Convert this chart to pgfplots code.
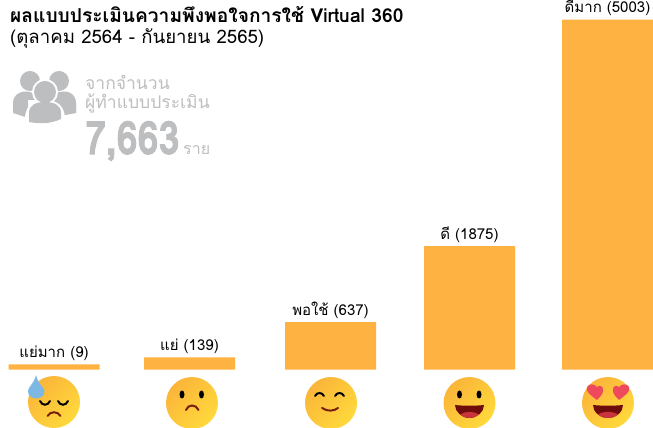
\documentclass[border=0pt]{standalone}
\usepackage{fontspec}
\setmainfont[Script=Thai]{Loma}
\usepackage{pgfplots}
\pgfplotsset{compat=1.18}
\definecolor{bar}{HTML}{FDB241}
\definecolor{gr}{HTML}{BDBEC0}
\definecolor{fa}{HTML}{FFD93B}
\definecolor{fb}{HTML}{FBB53A}
\definecolor{mo}{HTML}{6E0C0C}
\definecolor{to}{HTML}{C9343C}
\definecolor{he}{HTML}{EF4A5C}
\definecolor{br}{HTML}{7A1E10}
\definecolor{dr}{HTML}{7DB7E4}
\begin{document}
\begin{tikzpicture}
\useasboundingbox (0,0) rectangle (653pt,428pt);
\begin{axis}[at={(0,0)},anchor=south west,scale only axis,width=653pt,height=428pt,
  xmin=0,xmax=653,ymin=-836,ymax=5282,axis lines=none,clip=false,
  ybar,bar width=91pt,bar shift=0pt,
  nodes near coords,point meta=explicit symbolic,
  every node near coord/.append style={font=\fontsize{15}{17}\selectfont,text=black,yshift=0pt}]
\addplot[fill=bar,draw=none] coordinates {
 (54,74)[แย่มาก (9)]
 (189.5,174)[แย่ (139)]
 (330.5,679)[พอใช้ (637)]
 (469.5,1764)[ดี (1875)]
 (607.5,5003)[ดีมาก (5003)]
};
\end{axis}
\begin{scope}[x=1pt,y=-1pt,yshift=428pt]
% titles
\node[anchor=west,inner sep=0,font=\fontsize{19.2}{22}\selectfont\bfseries] at (10,15) {ผลแบบประเมินความพึงพอใจการใช้ Virtual 360};
\node[anchor=west,inner sep=0,font=\fontsize{18.6}{22}\selectfont] at (10,38) {(ตุลาคม 2564 - กันยายน 2565)};
% people icon
\fill[gr] (30,81) circle (10);
\fill[gr] (59,81) circle (10);
\fill[gr] (13,113) -- (13,103) .. controls (13,94) and (22,90) .. (30,92) -- (47,100) -- (76,103) -- (76,113) -- (62,113) -- (62,100) -- (28,100) -- (28,118) -- cycle;
\fill[gr] (43,92) -- (60,92) .. controls (68,90) and (76,94) .. (76,103) -- (76,113) -- (50,118) -- cycle;
\fill[white] (45,92) circle (13);
\fill[white] (24.5,123) .. controls (24.5,106) and (32,100) .. (45,100) .. controls (58,100) and (65.5,106) .. (65.5,123) -- cycle;
\fill[gr] (45,92) circle (11);
\fill[gr] (29,122) -- (29,113) .. controls (29,105) and (36,102) .. (45,102) .. controls (54,102) and (61,105) .. (61,113) -- (61,119) .. controls (50,124) and (40,124) .. (29,122) -- cycle;
% grey text
\node[anchor=west,inner sep=0,text=gr,font=\fontsize{17.5}{20}\selectfont] at (85,82) {จากจำนวน};
\node[anchor=west,inner sep=0,text=gr,font=\fontsize{17.5}{20}\selectfont] at (85,103) {ผู้ทำแบบประเมิน};
\node[anchor=west,inner sep=0,text=gr,font=\fontsize{46}{50}\selectfont\bfseries] at (85,141) {\scalebox{0.82}[1]{\addfontfeature{FakeBold=2}7,663}};
\node[anchor=west,inner sep=0,text=gr,font=\fontsize{16}{18}\selectfont] at (183,150) {ราย};
% face 1
\shade[top color=fa,bottom color=fb,shading angle=-135] (54,402) circle (26);
\fill[dr] (36,375) .. controls (38,384) and (44.5,388) .. (44.5,391) .. controls (44.5,401) and (28,401) .. (28,391) .. controls (28,387) and (34,384) .. (36,375) -- cycle;
\draw[black,line width=2pt,line cap=round] (40,401) .. controls (42,406) and (48,406) .. (50,401);
\draw[black,line width=2pt,line cap=round] (58,401) .. controls (60,406) and (66,406) .. (68,401);
\draw[br,line width=2pt,line cap=round] (47.5,416) .. controls (50,411) and (58,411) .. (60.5,416);
% face 2
\shade[top color=fa,bottom color=fb,shading angle=-135] (192,403) circle (26);
\fill[black] (182,394.5) ellipse (2.5 and 4);
\fill[black] (201.5,394.5) ellipse (2.5 and 4);
\draw[br,line width=2pt,line cap=round] (186,410) .. controls (188,404) and (196,404) .. (198.5,410);
% face 3
\shade[top color=fa,bottom color=fb,shading angle=-135] (331,403) circle (26);
\draw[black,line width=2pt,line cap=round] (315,396) .. controls (317,392) and (322,392) .. (324,396);
\draw[black,line width=2pt,line cap=round] (335,396) .. controls (337,392) and (342,392) .. (344,396);
\draw[br,line width=2pt,line cap=round] (322,408) .. controls (328,412) and (334,411) .. (338,408);
% face 4
\shade[top color=fa,bottom color=fb,shading angle=-135] (469.5,403) circle (26);
\fill[black] (459.5,394.5) ellipse (2.5 and 4);
\fill[black] (479,394.5) ellipse (2.5 and 4);
\fill[mo] (455,405) .. controls (464,406) and (475,406) .. (484,405) .. controls (484,412) and (477,418) .. (469.5,418) .. controls (462,418) and (455,412) .. (455,405) -- cycle;
\fill[to] (460,414.5) .. controls (465,411) and (474,411) .. (479,414.5) .. controls (476,417) and (473,418) .. (469.5,418) .. controls (466,418) and (463,417) .. (460,414.5) -- cycle;
% face 5
\shade[top color=fa,bottom color=fb,shading angle=-135] (608,403) circle (26);
\fill[he] (597,400) .. controls (592,396) and (585,392) .. (587,387) .. controls (589,383) and (595,384) .. (597,387) .. controls (600,384) and (604,387) .. (603,391) .. controls (603,394) and (600,397) .. (597,400) -- cycle;
\fill[he] (619,400) .. controls (616,397) and (613,394) .. (613,391) .. controls (612,387) and (616,384) .. (619,387) .. controls (621,384) and (627,383) .. (629,387) .. controls (631,392) and (624,396) .. (619,400) -- cycle;
\fill[mo] (593,405) .. controls (603,406) and (613,406) .. (623,405) .. controls (623,412) and (616,418) .. (608,418) .. controls (600,418) and (593,412) .. (593,405) -- cycle;
\fill[to] (598,414.5) .. controls (603,411) and (613,411) .. (618,414.5) .. controls (615,417) and (612,418) .. (608,418) .. controls (604,418) and (601,417) .. (598,414.5) -- cycle;
\end{scope}
\end{tikzpicture}
\end{document}
